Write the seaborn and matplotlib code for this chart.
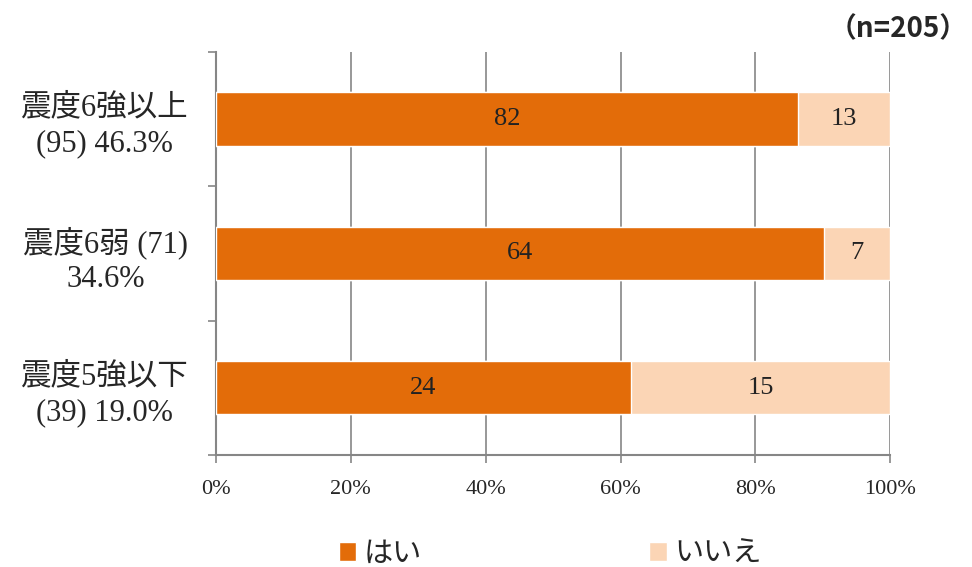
"""
Stacked 100% horizontal bar chart: yes/no answers by seismic intensity.
"""

import pandas as pd
import numpy as np
import matplotlib.pyplot as plt
import seaborn as sns
from matplotlib.patches import Patch
from matplotlib.ticker import FixedLocator

# Data
categories = ['震度6強以上', '震度6弱', '震度5強以下']
group_n = [95, 71, 39]
group_share = [46.3, 34.6, 19.0]
yes_counts = [82, 64, 24]
no_counts = [13, 7, 15]
tick_labels = ['震度6強以上\n(95) 46.3%', '震度6弱 (71)\n34.6%', '震度5強以下\n(39) 19.0%']
x_ticks = [0, 20, 40, 60, 80, 100]
legend_labels = ['はい', 'いいえ']
total_n = 205

YES_COLOR = '#E36C09'
NO_COLOR = '#FBD5B5'
GRID_COLOR = '#868686'
TEXT_FONT = ['Liberation Serif', 'Noto Sans CJK JP']

sns.set_style('white')
plt.rcParams['font.family'] = TEXT_FONT

df = pd.DataFrame({
    'category': categories,
    'yes': yes_counts,
    'no': no_counts,
})
df['total'] = df['yes'] + df['no']
df['yes_pct'] = df['yes'] / df['total'] * 100
df['full'] = 100.0

fig = plt.figure(figsize=(9.72, 5.67), dpi=100)
ax = fig.add_axes([0.222, 0.198, 0.694, 0.71])

# background bar (いいえ) spans to 100%, はい drawn on top
sns.barplot(data=df, x='full', y='category', orient='h', color=NO_COLOR,
            saturation=1, width=0.4, ax=ax, zorder=3)
sns.barplot(data=df, x='yes_pct', y='category', orient='h', color=YES_COLOR,
            saturation=1, width=0.4, ax=ax, zorder=4)

# segment labels
for i, row in df.iterrows():
    ax.text(row['yes_pct'] / 2, i, str(row['yes']), ha='center', va='center',
            fontsize=19, color='#222222', zorder=5)
    ax.text(row['yes_pct'] + (100 - row['yes_pct']) / 2, i, str(row['no']),
            ha='center', va='center', fontsize=19, color='#222222', zorder=5)

ax.set_xlim(0, 100)
ax.set_ylim(2.5, -0.5)
ax.set_xticks(x_ticks)
ax.set_xticklabels([f'{t}%' for t in x_ticks], fontsize=16)
ax.set_yticks(range(len(categories)))
ax.set_yticklabels(tick_labels, fontsize=22, multialignment='center',
                   linespacing=1.3)
ax.yaxis.set_minor_locator(FixedLocator([-0.5, 0.5, 1.5, 2.5]))
ax.set_xlabel('')
ax.set_ylabel('')

ax.xaxis.grid(True, color=GRID_COLOR, linewidth=1.2, zorder=0)
ax.set_axisbelow(True)
for side in ['top', 'right']:
    ax.spines[side].set_visible(False)
for side in ['left', 'bottom']:
    ax.spines[side].set_color(GRID_COLOR)
    ax.spines[side].set_linewidth(1.5)

ax.tick_params(axis='y', which='major', left=True, length=0, pad=20)
ax.tick_params(axis='y', which='minor', left=True, length=6,
               color=GRID_COLOR, width=1.2)
ax.tick_params(axis='x', which='major', bottom=True, length=6,
               color=GRID_COLOR, width=1.2, pad=12)

fig.text(0.995, 0.948, f'（n={total_n}）', ha='right', va='center',
         fontsize=20, fontweight='bold', family=['Noto Sans CJK JP'])

handles = [Patch(facecolor=YES_COLOR), Patch(facecolor=NO_COLOR)]
fig.legend(handles, legend_labels, loc='center', bbox_to_anchor=(0.566, 0.022),
           ncol=2, frameon=False, fontsize=21, handlelength=0.6,
           handleheight=0.6, handletextpad=0.25, columnspacing=7.8)

plt.savefig('out.png', dpi=100)
